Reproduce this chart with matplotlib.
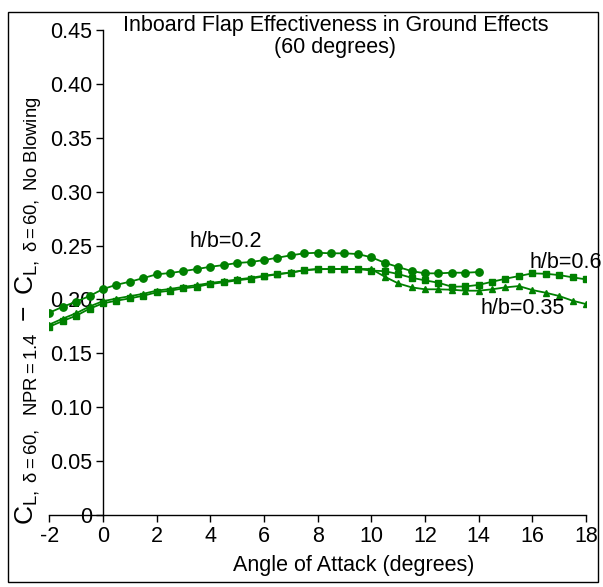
import matplotlib
matplotlib.use("Agg")
import matplotlib.pyplot as plt
from matplotlib.patches import Rectangle
from matplotlib.ticker import FuncFormatter

plt.rcParams['font.family'] = ['Liberation Sans', 'DejaVu Sans']
plt.rcParams['mathtext.fontset'] = 'custom'
plt.rcParams['mathtext.rm'] = 'Liberation Sans'
plt.rcParams['mathtext.it'] = 'Liberation Sans'
plt.rcParams['mathtext.bf'] = 'Liberation Sans'
plt.rcParams['axes.unicode_minus'] = False

# Angle of attack (degrees)
alpha_02 = [-2, -1.5, -1, -0.5, 0, 0.5, 1, 1.5, 2, 2.5, 3, 3.5, 4, 4.5, 5, 5.5, 6,
            6.5, 7, 7.5, 8, 8.5, 9, 9.5, 10, 10.5, 11, 11.5, 12, 12.5, 13, 13.5, 14]
cl_02 = [0.1877, 0.1932, 0.1979, 0.2032, 0.2096, 0.2136, 0.2164, 0.2198, 0.2233, 0.2245,
         0.2263, 0.2282, 0.2303, 0.2319, 0.2338, 0.2347, 0.2365, 0.2387, 0.2409, 0.2428,
         0.2433, 0.2428, 0.2428, 0.2421, 0.2391, 0.2340, 0.2301, 0.2263, 0.2242, 0.2242,
         0.2248, 0.2248, 0.2254]

alpha_06 = [-2, -1.5, -1, -0.5, 0, 0.5, 1, 1.5, 2, 2.5, 3, 3.5, 4, 4.5, 5, 5.5, 6,
            6.5, 7, 7.5, 8, 8.5, 9, 9.5, 10, 10.5, 11, 11.5, 12, 12.5, 13, 13.5, 14,
            14.5, 15, 15.5, 16, 16.5, 17, 17.5, 18]
cl_06 = [0.1747, 0.1800, 0.1849, 0.1914, 0.1964, 0.1988, 0.2010, 0.2034, 0.2066, 0.2081,
         0.2103, 0.2118, 0.2143, 0.2159, 0.2177, 0.2192, 0.2215, 0.2233, 0.2248, 0.2273,
         0.2282, 0.2282, 0.2282, 0.2282, 0.2268, 0.2262, 0.2236, 0.2201, 0.2177, 0.2155,
         0.2118, 0.2120, 0.2135, 0.2164, 0.2192, 0.2217, 0.2242, 0.2238, 0.2226, 0.2205,
         0.2186]

alpha_035 = [-2, -1.5, -1, -0.5, 0, 0.5, 1, 1.5, 2, 2.5, 3, 3.5, 4, 4.5, 5, 5.5, 6,
             6.5, 7, 7.5, 8, 8.5, 9, 9.5, 10, 10.5, 11, 11.5, 12, 12.5, 13, 13.5, 14,
             14.5, 15, 15.5, 16, 16.5, 17, 17.5, 18]
cl_035 = [0.1767, 0.1822, 0.1872, 0.1935, 0.1984, 0.2008, 0.2030, 0.2052, 0.2082, 0.2097,
          0.2117, 0.2132, 0.2153, 0.2168, 0.2185, 0.2200, 0.2220, 0.2236, 0.2250, 0.2270,
          0.2280, 0.2282, 0.2283, 0.2283, 0.2282, 0.2211, 0.2149, 0.2112, 0.2094, 0.2094,
          0.2090, 0.2081, 0.2081, 0.2094, 0.2112, 0.2124, 0.2087, 0.2062, 0.2032, 0.1988,
          0.1957]

xticks = [-2, 0, 2, 4, 6, 8, 10, 12, 14, 16, 18]
yticks = [0, 0.05, 0.10, 0.15, 0.20, 0.25, 0.30, 0.35, 0.40, 0.45]

green = '#008000'
fs = 15.5

fig = plt.figure(figsize=(6.03, 5.87), dpi=100)
ax = fig.add_axes([0.0818, 0.1227, 0.890, 0.8262])

ax.plot(alpha_035, cl_035, color=green, lw=1.3, marker='^', ms=4.4, zorder=3)
ax.plot(alpha_06, cl_06, color=green, lw=1.3, marker='s', ms=3.8, zorder=4)
ax.plot(alpha_02, cl_02, color=green, lw=1.3, marker='o', ms=5.3, zorder=5)

ax.set_xlim(-2, 18)
ax.set_ylim(0, 0.45)
ax.spines['top'].set_visible(False)
ax.spines['right'].set_visible(False)
ax.spines['left'].set_position(('data', 0))
ax.spines['left'].set_linewidth(1.0)
ax.spines['bottom'].set_linewidth(1.0)
ax.set_xticks(xticks)
ax.set_yticks(yticks)
ax.yaxis.set_major_formatter(FuncFormatter(lambda v, p: '0' if abs(v) < 1e-9 else f'{v:.2f}'))
ax.tick_params(axis='both', direction='out', length=5, width=1, labelsize=fs, pad=3)
ax.tick_params(axis='x', pad=3)
for lab in ax.get_yticklabels():
    lab.set_bbox(dict(facecolor='white', edgecolor='none', alpha=0.6, pad=0))
    lab.set_zorder(6)
ax.set_zorder(1)

ax.text(4.58, 0.254, 'h/b=0.2', fontsize=fs, ha='center', va='center')
ax.text(17.26, 0.2347, 'h/b=0.6', fontsize=fs, ha='center', va='center')
ax.text(15.65, 0.192, 'h/b=0.35', fontsize=fs, ha='center', va='center')

fig.text(0.556, 0.975, 'Inboard Flap Effectiveness in Ground Effects\n(60 degrees)',
         ha='center', va='top', fontsize=fs, linespacing=1.1)
fig.text(0.587, 0.036, 'Angle of Attack (degrees)', ha='center', va='center', fontsize=fs)
fig.text(0.048, 0.47,
         r'$\mathrm{C}_{\mathrm{L,\ \delta{=}60,\ \ NPR{=}1.4}}\ -\ \mathrm{C}_{\mathrm{L,\ \delta{=}60,\ No\ Blowing}}$',
         rotation=90, ha='center', va='center', fontsize=19)

fig.patches.append(Rectangle((8 / 603, 1 - 582 / 587), 590 / 603, 570 / 587,
                             transform=fig.transFigure, fill=False, edgecolor='black',
                             linewidth=1.0))

fig.savefig('out.png', dpi=100)
